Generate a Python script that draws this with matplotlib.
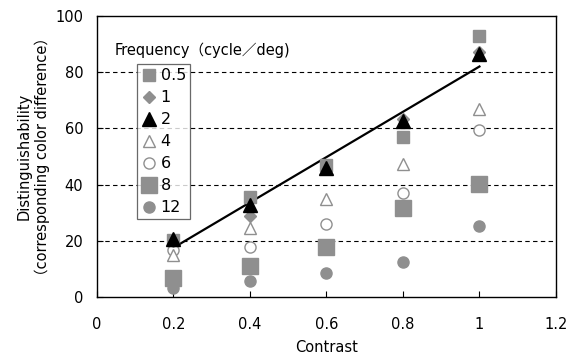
import numpy as np
from matplotlib import pyplot as plt

plt.rcParams['font.family'] = ['DejaVu Sans', 'Noto Sans CJK JP']

contrast = [0.2, 0.4, 0.6, 0.8, 1.0]

# distinguishability per spatial frequency (cycle/deg)
f05 = [20.5, 35.8, 47.0, 57.1, 92.7]
f1 = [20.0, 29.0, 47.0, 63.5, 87.0]
f2 = [20.9, 32.9, 46.1, 62.8, 86.4]
f4 = [15.1, 24.8, 34.9, 47.2, 67.0]
f6 = [16.9, 18.0, 26.2, 37.0, 59.3]
f8 = [7.0, 11.3, 18.0, 31.9, 40.3]
f12 = [3.3, 5.9, 8.6, 12.5, 25.2]

gray = '#8f8f8f'

fig = plt.figure(figsize=(5.69, 3.60), dpi=100)
ax = fig.add_axes([0.1705, 0.174, 0.8065, 0.782])

for y in [20, 40, 60, 80]:
    ax.axhline(y, color='black', lw=0.8, ls=(0, (4, 3)), zorder=0)

# regression line on the 2 cycle/deg series
p = np.polyfit(contrast, f2, 1)
xl = np.array([contrast[0], contrast[-1]])
ax.plot(xl, np.polyval(p, xl), color='black', lw=1.6, zorder=2)

ax.plot(contrast, f12, 'o', ms=8, color=gray, mec=gray, label='12', zorder=3)
ax.plot(contrast, f8, 's', ms=11, color=gray, mec=gray, label='8', zorder=3)
ax.plot(contrast, f6, 'o', ms=8, mfc='white', mec=gray, mew=1.0, label='6', zorder=3)
ax.plot(contrast, f4, '^', ms=9, mfc='white', mec=gray, mew=1.0, label='4', zorder=3)
ax.plot(contrast, f05, 's', ms=8, color=gray, mec=gray, label='0.5', zorder=3)
ax.plot(contrast, f1, 'D', ms=6.5, color=gray, mec=gray, label='1', zorder=3)
ax.plot(contrast, f2, '^', ms=9.5, color='black', mec='black', label='2', zorder=4)

handles, labels = ax.get_legend_handles_labels()
order = ['0.5', '1', '2', '4', '6', '8', '12']
hd = dict(zip(labels, handles))
leg = ax.legend([hd[k] for k in order], order, loc='upper left',
                bbox_to_anchor=(0.088, 0.828), fontsize=11.5, frameon=True,
                fancybox=False, edgecolor='#444444', handlelength=1.0,
                handletextpad=0.2, labelspacing=0.44, borderpad=0.25,
                borderaxespad=0)
leg.get_frame().set_linewidth(0.9)

ax.text(0.038, 0.879, 'Frequency（cycle／deg)', transform=ax.transAxes,
        fontsize=10.5, va='center', ha='left')

ax.set_xlim(0, 1.2)
ax.set_ylim(0, 100)
ax.set_xticks([0, 0.2, 0.4, 0.6, 0.8, 1.0, 1.2])
ax.set_xticklabels(['0', '0.2', '0.4', '0.6', '0.8', '1', '1.2'])
ax.set_yticks([0, 20, 40, 60, 80, 100])
ax.tick_params(direction='in', length=4, labelsize=10.5)
ax.tick_params(axis='x', pad=14)
ax.tick_params(axis='y', pad=10)
for s in ax.spines.values():
    s.set_linewidth(1.0)

ax.set_xlabel('Contrast', fontsize=10.5, labelpad=6)
ax.set_ylabel('Distinguishability\n（corresponding color difference）', fontsize=10.5,
              labelpad=4, linespacing=1.2)

fig.savefig('out.png', dpi=100)
